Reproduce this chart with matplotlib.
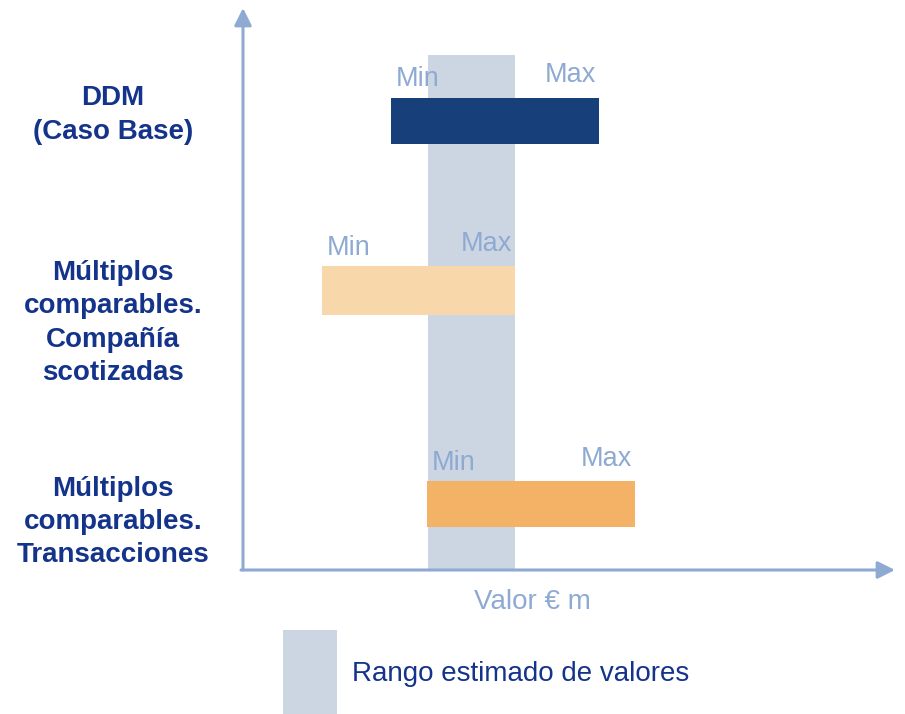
import matplotlib.pyplot as plt
from matplotlib.patches import Rectangle

# datos (unidades arbitrarias de valor)
categorias = ["DDM\n(Caso Base)",
              "Múltiplos\ncomparables.\nCompañía\nscotizadas",
              "Múltiplos\ncomparables.\nTransacciones"]
val_min = [148, 79, 184]
val_max = [356, 272, 392]
rango = (185, 272)

# layout
pos_y = [449.5, 279.5, 66.5]
alto = [46, 49, 46]
colores = ["#173f7a", "#f8d7ab", "#f4b266"]
pos_label = [455, 247, 48]

azul_claro = "#8eaad3"
azul_osc = "#14338a"
gris = "#ccd5e2"

plt.rcParams['font.family'] = ['Liberation Sans', 'DejaVu Sans']

fig = plt.figure(figsize=(9.05, 7.14), dpi=100)
ax = fig.add_axes([243/905, 1-570/714, 650/905, 560/714])
ax.set_xlim(0, 650)
ax.set_ylim(0, 560)
ax.axis('off')

# banda gris
ax.add_patch(Rectangle((rango[0], 0), rango[1]-rango[0], 515, color=gris, zorder=1, lw=0))

for i in range(len(categorias)):
	ax.barh(pos_y[i], val_max[i]-val_min[i], left=val_min[i], height=alto[i],
		color=colores[i], zorder=2, linewidth=0)
	top = pos_y[i] + alto[i]/2
	ax.text(val_min[i]+5, top+5, "Min", color=azul_claro, fontsize=19.5,
		ha='left', va='bottom', zorder=3)
	ax.text(val_max[i]-3, top+9, "Max", color=azul_claro, fontsize=19.5,
		ha='right', va='bottom', zorder=3)
	ax.text(-130, pos_label[i], categorias[i], color=azul_osc, fontsize=20,
		fontweight='bold', ha='center', va='center', multialignment='center',
		linespacing=1.36, clip_on=False)

# ejes con flechas
ax.annotate('', xy=(0, 562), xytext=(0, 0), annotation_clip=False,
	arrowprops=dict(arrowstyle='-|>', color=azul_claro, lw=2.2, mutation_scale=26,
	shrinkA=0, shrinkB=0))
ax.annotate('', xy=(652, 0), xytext=(-2, 0), annotation_clip=False,
	arrowprops=dict(arrowstyle='-|>', color=azul_claro, lw=2.2, mutation_scale=26,
	shrinkA=0, shrinkB=0))

ax.text(289, -32, "Valor € m", color=azul_claro, fontsize=20, ha='center', va='center')

# leyenda
ax.add_patch(Rectangle((40, -144), 54, 84, color=gris, lw=0, clip_on=False))
ax.text(109, -104, "Rango estimado de valores", color=azul_osc, fontsize=20,
	ha='left', va='center')

fig.savefig("out.png", dpi=100)
